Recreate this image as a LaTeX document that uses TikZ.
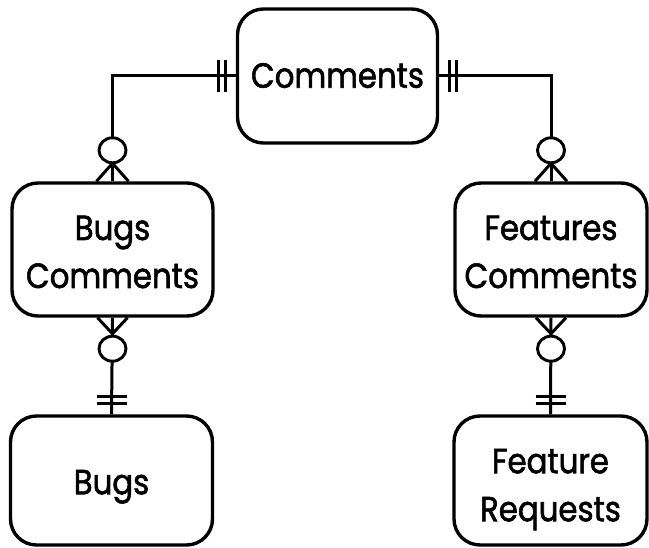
\documentclass[tikz,border=0pt]{standalone}
\usepackage{fontspec}
\setmainfont{Poppins}[FakeStretch=0.88,FakeBold=1.6]
\usetikzlibrary{calc}
% #1: height given to the text box (places the capitals), #2: the text
\newcommand{\oneline}[2]{\raisebox{0pt}[#1][0pt]{#2}}
\newcommand{\twolines}[3]{\raisebox{0pt}[#1][0pt]{\begin{tabular}[b]{@{}c@{}}#2\\#3\end{tabular}}}
\begin{document}
\begin{tikzpicture}[x=1pt,y=-1pt,line width=3pt,
  entity/.style={draw,rectangle,rounded corners=26pt,line width=3.4pt,inner sep=0pt,
    font=\fontsize{35}{48}\selectfont},
  bar/.style={line width=2.7pt},
  ring/.style={draw,fill=white,line width=2.9pt}]
\useasboundingbox (0,0) rectangle (649,548);
% entities
\node[entity,minimum width=200pt,minimum height=134pt] (com) at (337.5,76) {\oneline{23.5pt}{Comments}};
\node[entity,minimum width=201pt,minimum height=133pt] (bc) at (112.5,249.5) {\twolines{77pt}{Bugs}{Comments}};
\node[entity,minimum width=192pt,minimum height=133pt] (fc) at (551,249.5) {\twolines{77pt}{Features}{Comments}};
\node[entity,minimum width=202pt,minimum height=129pt] (bugs) at (111.5,480.5) {\oneline{27.5pt}{Bugs}};
\node[entity,minimum width=193pt,minimum height=129pt] (fr) at (550.5,480.5) {\twolines{81.5pt}{Feature}{Requests}};
% connectors
\draw (com.west) -| (bc.north);
\draw (com.east) -| (fc.north);
\draw (bc.south) -- (bugs.north);
\draw (fc.south) -- (fr.north);
% one-and-only-one bars at Comments
\draw[bar] ($(com.west)+(-10,-16)$) -- ($(com.west)+(-10,16)$);
\draw[bar] ($(com.west)+(-17,-16)$) -- ($(com.west)+(-17,16)$);
\draw[bar] ($(com.east)+(10,-16)$) -- ($(com.east)+(10,16)$);
\draw[bar] ($(com.east)+(17,-16)$) -- ($(com.east)+(17,16)$);
% bars at Bugs / Feature Requests
\draw[bar] ($(bugs.north)+(-15,-11)$) -- ($(bugs.north)+(15,-11)$);
\draw[bar] ($(bugs.north)+(-15,-18)$) -- ($(bugs.north)+(15,-18)$);
\draw[bar] ($(fr.north)+(-15,-11)$) -- ($(fr.north)+(15,-11)$);
\draw[bar] ($(fr.north)+(-15,-18)$) -- ($(fr.north)+(15,-18)$);
% crow's feet and rings on the associative entities
\foreach \n in {bc,fc}{
  \draw ($(\n.north)+(0,-18)$) -- ($(\n.north)+(-16,0)$);
  \draw ($(\n.north)+(0,-18)$) -- ($(\n.north)+(16,0)$);
  \draw[ring] ($(\n.north)+(0,-31)$) circle[x radius=13.5pt,y radius=12.5pt];
  \draw ($(\n.south)+(0,16)$) -- ($(\n.south)+(-15,0)$);
  \draw ($(\n.south)+(0,16)$) -- ($(\n.south)+(15,0)$);
  \draw[ring] ($(\n.south)+(0,31)$) circle[x radius=13.5pt,y radius=12.5pt];
}
\end{tikzpicture}
\end{document}
